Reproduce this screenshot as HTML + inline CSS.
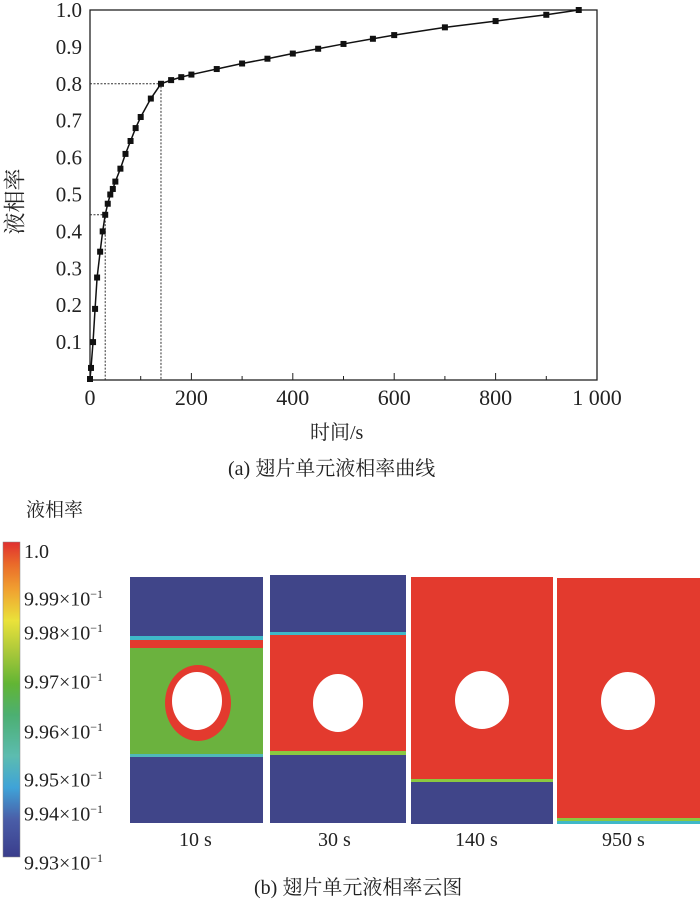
<!DOCTYPE html>
<html><head><meta charset="utf-8"><style>
body{margin:0;background:#fff;width:700px;height:898px;position:relative;overflow:hidden;font-family:"Liberation Serif","Noto Serif CJK SC",serif;color:#222}
.t{position:absolute;white-space:nowrap}
</style></head><body>
<svg id="chart" width="700" height="480" style="position:absolute;left:0;top:0" font-family="Liberation Serif, Noto Serif CJK SC, serif"></svg>
<div class="t" style="left:310px;top:416px;font-size:20px">时间/s</div>
<div class="t" style="left:228px;top:452px;font-size:20px">(a) 翅片单元液相率曲线</div>
<div class="t" style="left:-19px;top:186px;font-size:22px;transform:rotate(-90deg)">液相率</div>

<div class="t" style="left:26px;top:495px;font-size:19px">液相率</div>
<svg width="700" height="898" style="position:absolute;left:0;top:0">
<defs><linearGradient id="cb" x1="0" y1="1" x2="0" y2="0">
<stop offset="0" stop-color="#3a3d8c"/><stop offset="0.12" stop-color="#4a5ea8"/><stop offset="0.22" stop-color="#3fa3d8"/><stop offset="0.32" stop-color="#5cbcb0"/><stop offset="0.45" stop-color="#4caf72"/><stop offset="0.55" stop-color="#62b534"/><stop offset="0.65" stop-color="#a9c83a"/><stop offset="0.75" stop-color="#eae23a"/><stop offset="0.85" stop-color="#f0a030"/><stop offset="0.93" stop-color="#ea6a2a"/><stop offset="1" stop-color="#e03030"/></linearGradient></defs>
<rect x="3" y="542" width="17" height="315" fill="url(#cb)" stroke="#888" stroke-width="0.5"/>
<g>
<rect x="130" y="577" width="133" height="246" fill="#404589"/>
<rect x="130" y="636" width="133" height="4" fill="#3fb8c8"/>
<rect x="130" y="640" width="133" height="8" fill="#e33a2e"/>
<rect x="130" y="648" width="133" height="106" fill="#6bb23e"/>
<rect x="130" y="754" width="133" height="3" fill="#4fb8b8"/>
<ellipse cx="198" cy="703" rx="33" ry="38" fill="#e33a2e"/>
<ellipse cx="197" cy="701" rx="25" ry="29" fill="#fff"/></g>
<g>
<rect x="270" y="575" width="136" height="248" fill="#404589"/>
<rect x="270" y="632" width="136" height="3" fill="#3fb8c8"/>
<rect x="270" y="635" width="136" height="117" fill="#e33a2e"/>
<rect x="270" y="751" width="136" height="4" fill="#8ac840"/>
<ellipse cx="338" cy="703" rx="25" ry="29" fill="#fff"/></g>
<g>
<rect x="411" y="577" width="142" height="247" fill="#404589"/>
<rect x="411" y="577" width="142" height="202" fill="#e33a2e"/>
<rect x="411" y="779" width="142" height="3" fill="#8ac840"/>
<ellipse cx="482" cy="700" rx="27" ry="29" fill="#fff"/></g>
<g>
<rect x="557" y="578" width="143" height="246" fill="#e33a2e"/>
<rect x="557" y="818" width="143" height="3" fill="#8ac840"/>
<rect x="557" y="821" width="143" height="3" fill="#3fb8c8"/>
<ellipse cx="628" cy="701" rx="27" ry="29" fill="#fff"/></g>
</svg>
<div style="position:absolute;left:24px;top:0;font-size:20px">
<div class="t" style="top:541px">1.0</div>
<div class="t" style="top:587px">9.99×10<sup style="font-size:12px">−1</sup></div>
<div class="t" style="top:621px">9.98×10<sup style="font-size:12px">−1</sup></div>
<div class="t" style="top:670px">9.97×10<sup style="font-size:12px">−1</sup></div>
<div class="t" style="top:720px">9.96×10<sup style="font-size:12px">−1</sup></div>
<div class="t" style="top:768px">9.95×10<sup style="font-size:12px">−1</sup></div>
<div class="t" style="top:802px">9.94×10<sup style="font-size:12px">−1</sup></div>
<div class="t" style="top:851px">9.93×10<sup style="font-size:12px">−1</sup></div>
</div>
<div class="t" style="left:179px;top:829px;font-size:20px">10 s</div>
<div class="t" style="left:318px;top:829px;font-size:20px">30 s</div>
<div class="t" style="left:455px;top:829px;font-size:20px">140 s</div>
<div class="t" style="left:602px;top:829px;font-size:20px">950 s</div>
<div class="t" style="left:254px;top:871px;font-size:20px">(b) 翅片单元液相率云图</div>
<script>
const times=[0,2,6,10,14,20,25,30,35,40,45,50,60,70,80,90,100,120,140,160,180,200,250,300,350,400,450,500,558,600,700,800,900,964];
const fractions=[0,0.03,0.1,0.19,0.275,0.345,0.4,0.445,0.475,0.5,0.515,0.535,0.57,0.61,0.645,0.68,0.71,0.76,0.8,0.81,0.818,0.825,0.84,0.855,0.868,0.882,0.895,0.908,0.922,0.932,0.953,0.97,0.987,1.0];
const xTicks=[0,200,400,600,800,1000];
const xTickLabels=["0","200","400","600","800","1 000"];
const yTicks=[0.1,0.2,0.3,0.4,0.5,0.6,0.7,0.8,0.9,1.0];
const yTickLabels=["0.1","0.2","0.3","0.4","0.5","0.6","0.7","0.8","0.9","1.0"];
const refTimes=[30,140];
const refValues=[0.445,0.8];
const L=90,R=597,T=10,B=380,Y0=379;
const sx=t=>L+t*(R-L)/1000;
const sy=v=>Y0-v*(Y0-T);
const svg=document.getElementById('chart');const NS='http://www.w3.org/2000/svg';
function mk(tag,a){const e=document.createElementNS(NS,tag);for(const k in a)e.setAttribute(k,a[k]);svg.appendChild(e);return e;}
const fr=mk('rect',{x:L,y:T,width:R-L,height:B-T,fill:'none',stroke:'#222','stroke-width':1.3});


for(let t=0;t<=1000;t+=100){const big=t%200===0;const k=mk('line',{x1:sx(t),x2:sx(t),y1:B,y2:B-(big?7:4),stroke:'#222'});

}
xTicks.forEach((t,i)=>{const e=mk('text',{x:sx(t),y:405,'text-anchor':'middle','font-size':22,fill:'#222'});e.textContent=xTickLabels[i];

});
yTicks.forEach((v,i)=>{const e=mk('text',{x:82,y:sy(v)+7,'text-anchor':'end','font-size':21,fill:'#222'});e.textContent=yTickLabels[i];

});
refTimes.forEach((t,i)=>{const p=mk('polyline',{points:`${L},${sy(refValues[i])} ${sx(t)},${sy(refValues[i])} ${sx(t)},${B}`,fill:'none',stroke:'#333','stroke-width':1,'stroke-dasharray':'2,1.5'});

});
const ln=mk('polyline',{points:times.map((t,i)=>sx(t)+','+sy(fractions[i])).join(' '),fill:'none',stroke:'#111','stroke-width':1.5});


times.forEach((t,i)=>{const m=mk('rect',{x:sx(t)-3,y:sy(fractions[i])-3,width:6,height:6,fill:'#111'});

});
</script>
</body></html>
